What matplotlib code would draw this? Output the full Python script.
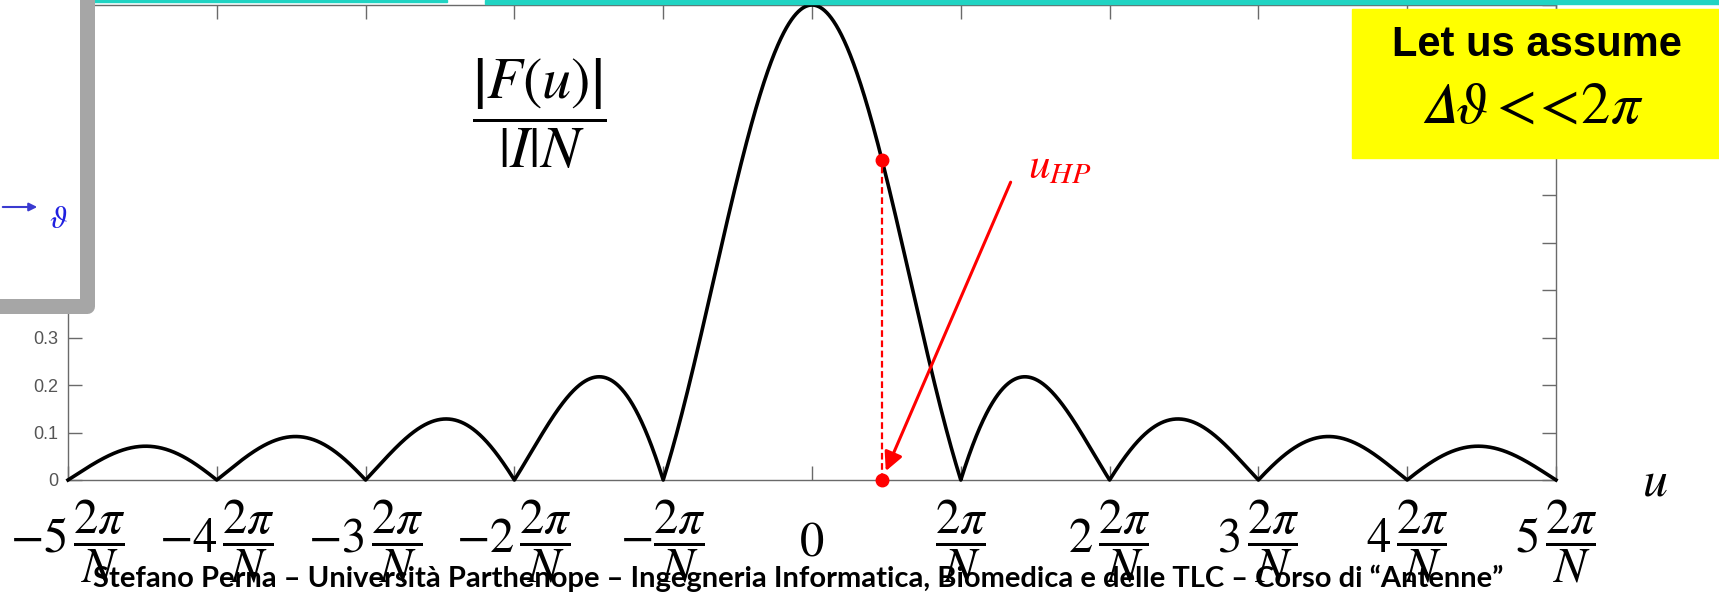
import numpy as np
import matplotlib.pyplot as plt
from matplotlib.patches import Rectangle, FancyArrowPatch
from matplotlib.lines import Line2D

plt.rcParams['mathtext.fontset'] = 'stix'

# normalised array factor |F(u)| / (|I| N), u in units of 2*pi/N
N = 100
u_range = [-5, 5]
u_ticks = [-5, -4, -3, -2, -1, 0, 1, 2, 3, 4, 5]
u_tick_labels = [r'$-5\,\dfrac{2\pi}{N}$', r'$-4\,\dfrac{2\pi}{N}$', r'$-3\,\dfrac{2\pi}{N}$',
                 r'$-2\,\dfrac{2\pi}{N}$', r'$-\dfrac{2\pi}{N}$', r'$0$',
                 r'$\dfrac{2\pi}{N}$', r'$2\,\dfrac{2\pi}{N}$', r'$3\,\dfrac{2\pi}{N}$',
                 r'$4\,\dfrac{2\pi}{N}$', r'$5\,\dfrac{2\pi}{N}$']
y_ticks = [0, 0.1, 0.2, 0.3, 0.4, 0.5, 0.6, 0.7, 0.8, 0.9, 1.0]
y_tick_labels = ['0', '0.1', '0.2', '0.3', '0.4', '0.5', '0.6', '0.7', '0.8', '0.9', '1']
u_hp = 0.47               # half power point
arrow_tail = (1.335, 0.627)
footer = ('Stefano Perna \u2013 Universit\u00e0 Parthenope \u2013 Ingegneria Informatica, '
          'Biomedica e delle TLC \u2013 Corso di \u201cAntenne\u201d')
assumption = '$\\mathit{\U0001D6E5}\\vartheta <\\!\\!<\\! 2\\pi$'

W, H = 1719, 594
k = np.linspace(u_range[0], u_range[1], 4001)
af = np.abs(np.sinc(k) / np.sinc(k / N))
af_hp = np.abs(np.sinc(u_hp) / np.sinc(u_hp / N))

fig = plt.figure(figsize=(W / 100, H / 100), dpi=100)
ax = fig.add_axes([68 / W, 1 - 480 / H, (1556 - 68) / W, (480 - 5) / H])

ax.plot(k, af, color='black', lw=2.6, zorder=3, clip_on=False)
ax.set_xlim(u_range)
ax.set_ylim(0, 1)

# half power point
ax.plot([u_hp, u_hp], [0, af_hp], color='red', lw=1.6, ls=(0, (3, 1.6)), zorder=4)
ax.plot([u_hp, u_hp], [af_hp, 0], 'o', color='red', ms=9, zorder=5, clip_on=False)
ax.annotate('', xy=(u_hp, 0), xytext=arrow_tail,
            arrowprops=dict(arrowstyle='-|>', color='red', lw=2.2,
                            mutation_scale=28, shrinkA=0, shrinkB=7))
ax.text(1.45, 0.636, r'$u_{HP}$', color='red', fontsize=31, ha='left', va='baseline')

ax.text(-1.833, 0.77, r'$\dfrac{\left|F(u)\right|}{\left|I\right|N}$', fontsize=42,
        ha='center', va='center')

# axes styling, matlab-like box
for s in ax.spines.values():
    s.set_color('#6a6a6a')
    s.set_linewidth(1.0)
ax.set_xticks(u_ticks, u_tick_labels)
ax.set_yticks(y_ticks, y_tick_labels)
ax.tick_params(direction='in', length=10, width=1, color='#6a6a6a',
               top=True, right=True)
ax.tick_params(axis='x', labelsize=35, pad=44)
ax.tick_params(axis='y', labelsize=13, labelcolor='#555555', pad=7)
for lab in ax.get_xticklabels():
    lab.set_va('center')
for lab in ax.get_yticklabels():
    lab.set_fontfamily('Liberation Sans')

fig.text(1655 / W, 1 - 481 / H, r'$u$', fontsize=36, ha='center', va='center')

# slide decorations
fig.add_artist(Rectangle((93 / W, 1 - 2 / H), (447 - 93) / W, 2 / H,
                         transform=fig.transFigure, color='#20d4c3', zorder=6))
fig.add_artist(Rectangle((485 / W, 1 - 4 / H), (W - 485) / W, 4 / H,
                         transform=fig.transFigure, color='#20d4c3', zorder=6))

fig.add_artist(Rectangle((0, 1 - 306 / H), 87 / W, 306 / H, transform=fig.transFigure,
                         facecolor='white', edgecolor='none', zorder=5))
fig.add_artist(Line2D([87 / W, 87 / W, -0.01], [1.02, 1 - 306 / H, 1 - 306 / H],
                      transform=fig.transFigure, color='#a6a6a6', lw=10.8,
                      solid_joinstyle='round', zorder=6))
fig.add_artist(FancyArrowPatch((0, 1 - 207 / H), (40 / W, 1 - 207 / H),
                               transform=fig.transFigure, arrowstyle='-|>',
                               mutation_scale=12, color='#3a3ad0', lw=1.5, zorder=7))
fig.text(58 / W, 1 - 220 / H, r'$\vartheta$', color='#2020e0', fontsize=23,
         ha='center', va='center', zorder=7)

fig.add_artist(Rectangle((1352 / W, 1 - 158 / H), (W - 1352) / W, (158 - 9) / H,
                         transform=fig.transFigure, color='#ffff00', zorder=6))
fig.text(1537 / W, 1 - 45 / H, 'Let us assume', fontfamily='Liberation Sans',
         fontweight='bold', fontsize=30, ha='center', va='center', zorder=7)
fig.text(1532 / W, 1 - 106 / H, assumption,
         fontsize=42, ha='center', va='center', zorder=7)

fig.text(798 / W, 1 - 587 / H, footer, fontfamily='Lato', fontweight='bold',
         fontsize=21, ha='center', va='baseline', zorder=7)

fig.savefig('out.png', dpi=100)
